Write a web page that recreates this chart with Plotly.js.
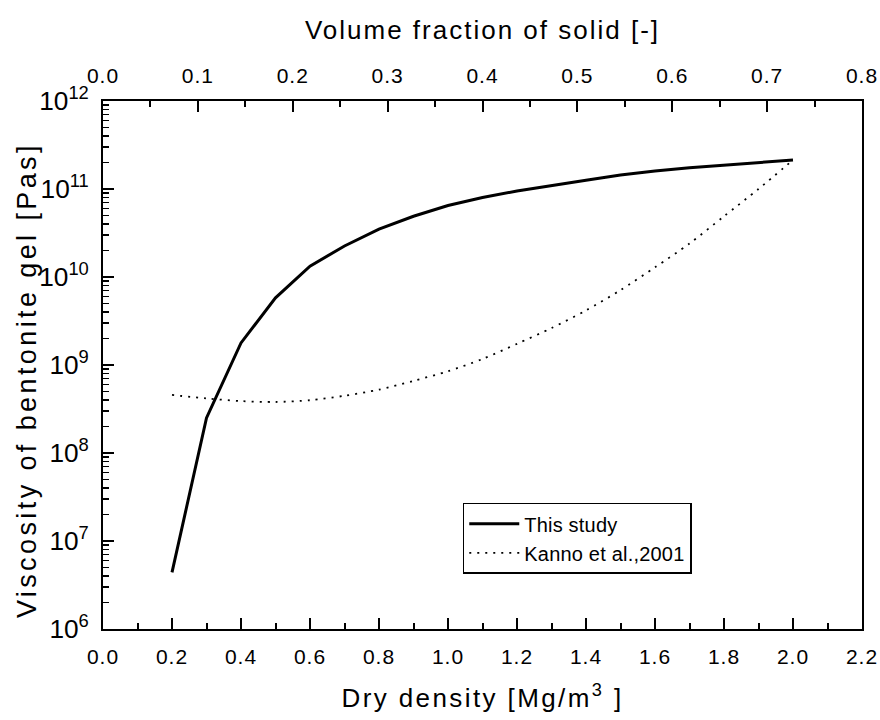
<!DOCTYPE html>
<html>
<head>
<meta charset="utf-8">
<script src="https://cdn.plot.ly/plotly-3.0.1.min.js"></script>
<style>
html,body{margin:0;padding:0;background:#fff;}
#chart{width:880px;height:720px;}
text.xtitle {letter-spacing: 2.4px;}
text.x2title {letter-spacing: 2px;}
.annotation-text {letter-spacing: 3.4px;}
.xtick text, .x2tick text {letter-spacing: 1px;}
.legendtext {letter-spacing: 0.2px;}
</style>
</head>
<body>
<div id="chart"></div>
<script>
// Dry density [Mg/m3]
var dryDensity = [0.2, 0.3, 0.4, 0.5, 0.6, 0.7, 0.8, 0.9, 1.0, 1.1, 1.2, 1.3, 1.4, 1.5, 1.6, 1.7, 1.8, 1.9, 2.0];
// Viscosity, this study [Pa s]
var viscosityThisStudy = [4.4e6, 2.5e8, 1.78e9, 5.8e9, 1.33e10, 2.25e10, 3.5e10, 4.9e10, 6.5e10, 8.0e10, 9.5e10,
  1.1e11, 1.26e11, 1.44e11, 1.6e11, 1.74e11, 1.87e11, 2.0e11, 2.14e11];
// Viscosity, Kanno et al., 2001 [Pa s]
var viscosityKanno = [4.57e8, 4.17e8, 3.89e8, 3.8e8, 3.98e8, 4.47e8, 5.25e8, 6.6e8, 8.5e8, 1.17e9, 1.74e9,
  2.63e9, 4.17e9, 7.1e9, 1.29e10, 2.4e10, 4.9e10, 1.0e11, 2.14e11];
var seriesNames = ["This study", "Kanno et al.,2001"];
var xBottomRange = [0, 2.2];
var xTopRange = [0, 0.8];
var yRangeLog = [6, 12];
var yTitle = "Viscosity of bentonite gel [Pas]";

var font = "Liberation Sans, Arial, sans-serif";

var traces = [
  {x: dryDensity, y: viscosityThisStudy, type: "scatter", mode: "lines", name: seriesNames[0],
   line: {color: "#000", width: 3}, xaxis: "x", yaxis: "y"},
  {x: dryDensity, y: viscosityKanno, type: "scatter", mode: "lines", name: seriesNames[1],
   line: {color: "#000", width: 1.8, dash: "2px,6px", shape: "spline", smoothing: 0.8}, xaxis: "x", yaxis: "y"},
  // helper trace (no marks) so that the top axis is drawn
  {x: xTopRange, y: [null, null], type: "scatter", mode: "lines", xaxis: "x2", yaxis: "y",
   showlegend: false, hoverinfo: "skip"}
];

var layout = {
  width: 880, height: 720,
  paper_bgcolor: "#fff", plot_bgcolor: "#fff",
  margin: {l: 103, r: 18, t: 101, b: 91},
  font: {family: font, color: "#000", size: 21},
  showlegend: true,
  legend: {
    x: 0.474, y: 0.239, xanchor: "left", yanchor: "top",
    bgcolor: "#fff", bordercolor: "#000", borderwidth: 1.5,
    font: {family: font, size: 20, color: "#000"},
    itemwidth: 50, tracegroupgap: 0
  },
  xaxis: {
    range: xBottomRange, dtick: 0.2, tick0: 0, tickformat: ".1f",
    showgrid: false, zeroline: false,
    showline: true, linecolor: "#000", linewidth: 2, mirror: false,
    ticks: "inside", ticklen: 11, tickwidth: 2, tickcolor: "#000",
    minor: {dtick: 0.1, ticks: "inside", ticklen: 6, tickwidth: 2, tickcolor: "#000", showgrid: false},
    tickfont: {size: 21},
    ticklabelstandoff: 8,
    title: {text: "Dry density [Mg/m<sup>3</sup> ]", font: {size: 26}, standoff: 22},
    automargin: false
  },
  xaxis2: {
    range: xTopRange, dtick: 0.1, tick0: 0, tickformat: ".1f",
    overlaying: "x", side: "top", anchor: "y",
    showgrid: false, zeroline: false,
    showline: true, linecolor: "#000", linewidth: 2,
    ticks: "inside", ticklen: 11, tickwidth: 2, tickcolor: "#000",
    minor: {dtick: 0.05, ticks: "inside", ticklen: 6, tickwidth: 2, tickcolor: "#000", showgrid: false},
    tickfont: {size: 21},
    ticklabelstandoff: 8,
    title: {text: "Volume fraction of solid [-]", font: {size: 26}, standoff: 16},
    automargin: false
  },
  yaxis: {
    type: "log", range: yRangeLog, dtick: 1, exponentformat: "power",
    showgrid: false, zeroline: false,
    showline: true, linecolor: "#000", linewidth: 2, mirror: true,
    ticks: "inside", ticklen: 11, tickwidth: 2, tickcolor: "#000",
    minor: {dtick: "D1", ticks: "inside", ticklen: 6, tickwidth: 1.5, tickcolor: "#000", showgrid: false},
    tickfont: {size: 21},
    ticklabelstandoff: 8,
    automargin: false
  },
  annotations: [{
    text: yTitle, textangle: -90, showarrow: false,
    xref: "paper", yref: "paper", x: -0.1, y: 0.4716, xanchor: "center", yanchor: "middle",
    font: {family: font, size: 27, color: "#000"}
  }]
};

Plotly.newPlot("chart", traces, layout, {displayModeBar: false, staticPlot: true});
</script>
</body>
</html>
